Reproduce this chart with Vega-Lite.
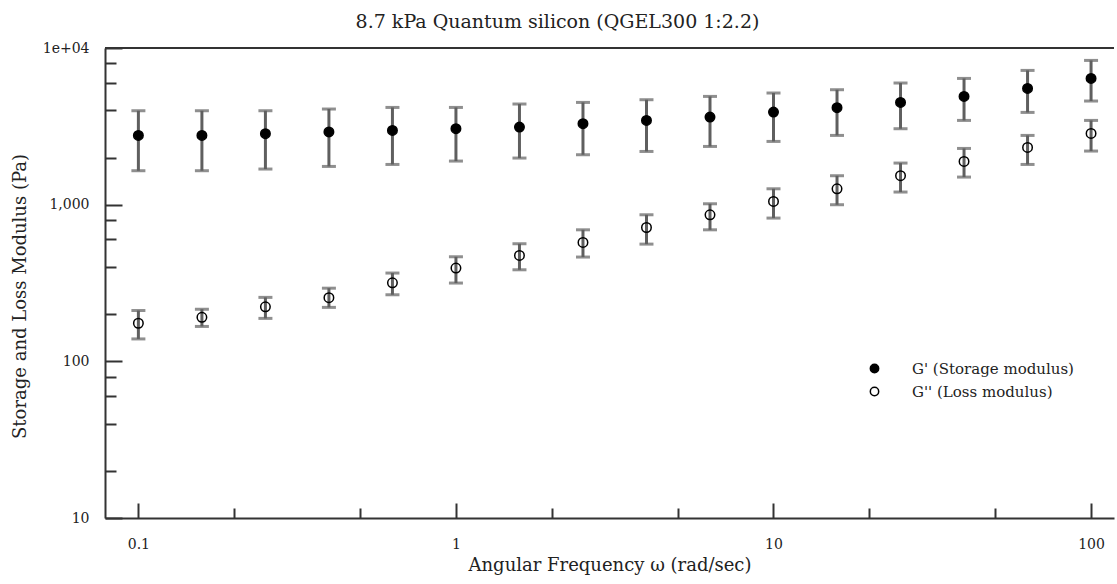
{
  "$schema": "https://vega.github.io/schema/vega-lite/v6.json",
  "autosize": {"type": "none"},
  "padding": {"left": 105, "top": 48, "right": 3, "bottom": 66},
  "width": 1009,
  "height": 470,
  "background": "white",
  "title": {
    "text": "8.7 kPa Quantum silicon (QGEL300 1:2.2)",
    "font": "DejaVu Serif",
    "fontSize": 19,
    "fontWeight": "normal",
    "color": "#222",
    "anchor": "middle",
    "frame": "group",
    "offset": 9,
    "dx": -52
  },
  "config": {
    "view": {"stroke": null},
    "axis": {
      "labelFont": "DejaVu Serif",
      "titleFont": "DejaVu Serif",
      "labelFontSize": 14,
      "titleFontSize": 18,
      "titleFontWeight": "normal",
      "labelColor": "#222",
      "titleColor": "#222",
      "domainColor": "#333",
      "domainWidth": 2,
      "tickColor": "#333",
      "tickWidth": 2,
      "grid": false,
      "labelOverlap": false,
      "labelFlush": false
    }
  },
  "data": {
    "values": [
      {"freq": 0.1, "series": "G' (Storage modulus)", "mod": 2767, "lo": 1647, "hi": 3977},
      {"freq": 0.1585, "series": "G' (Storage modulus)", "mod": 2767, "lo": 1647, "hi": 3977},
      {"freq": 0.2512, "series": "G' (Storage modulus)", "mod": 2838, "lo": 1688, "hi": 3977},
      {"freq": 0.3981, "series": "G' (Storage modulus)", "mod": 2910, "lo": 1754, "hi": 4078},
      {"freq": 0.631, "series": "G' (Storage modulus)", "mod": 2978, "lo": 1806, "hi": 4175},
      {"freq": 1, "series": "G' (Storage modulus)", "mod": 3053, "lo": 1898, "hi": 4175},
      {"freq": 1.585, "series": "G' (Storage modulus)", "mod": 3130, "lo": 1984, "hi": 4389},
      {"freq": 2.512, "series": "G' (Storage modulus)", "mod": 3286, "lo": 2083, "hi": 4494},
      {"freq": 3.981, "series": "G' (Storage modulus)", "mod": 3450, "lo": 2186, "hi": 4676},
      {"freq": 6.31, "series": "G' (Storage modulus)", "mod": 3626, "lo": 2353, "hi": 4909},
      {"freq": 10, "series": "G' (Storage modulus)", "mod": 3902, "lo": 2533, "hi": 5160},
      {"freq": 15.85, "series": "G' (Storage modulus)", "mod": 4157, "lo": 2767, "hi": 5416},
      {"freq": 25.12, "series": "G' (Storage modulus)", "mod": 4494, "lo": 3053, "hi": 5977},
      {"freq": 39.81, "series": "G' (Storage modulus)", "mod": 4909, "lo": 3450, "hi": 6394},
      {"freq": 63.1, "series": "G' (Storage modulus)", "mod": 5521, "lo": 3880, "hi": 7194},
      {"freq": 100, "series": "G' (Storage modulus)", "mod": 6394, "lo": 4587, "hi": 8333},
      {"freq": 0.1, "series": "G'' (Loss modulus)", "mod": 175, "lo": 139, "hi": 211},
      {"freq": 0.1585, "series": "G'' (Loss modulus)", "mod": 191, "lo": 167, "hi": 215},
      {"freq": 0.2512, "series": "G'' (Loss modulus)", "mod": 223, "lo": 188, "hi": 256},
      {"freq": 0.3981, "series": "G'' (Loss modulus)", "mod": 255, "lo": 221, "hi": 293},
      {"freq": 0.631, "series": "G'' (Loss modulus)", "mod": 317, "lo": 266, "hi": 366},
      {"freq": 1, "series": "G'' (Loss modulus)", "mod": 394, "lo": 316, "hi": 465},
      {"freq": 1.585, "series": "G'' (Loss modulus)", "mod": 474, "lo": 384, "hi": 563},
      {"freq": 2.512, "series": "G'' (Loss modulus)", "mod": 574, "lo": 463, "hi": 691},
      {"freq": 3.981, "series": "G'' (Loss modulus)", "mod": 715, "lo": 560, "hi": 862},
      {"freq": 6.31, "series": "G'' (Loss modulus)", "mod": 862, "lo": 691, "hi": 1013},
      {"freq": 10, "series": "G'' (Loss modulus)", "mod": 1048, "lo": 821, "hi": 1263},
      {"freq": 15.85, "series": "G'' (Loss modulus)", "mod": 1263, "lo": 999, "hi": 1530},
      {"freq": 25.12, "series": "G'' (Loss modulus)", "mod": 1530, "lo": 1204, "hi": 1843},
      {"freq": 39.81, "series": "G'' (Loss modulus)", "mod": 1887, "lo": 1500, "hi": 2285},
      {"freq": 63.1, "series": "G'' (Loss modulus)", "mod": 2319, "lo": 1806, "hi": 2767},
      {"freq": 100, "series": "G'' (Loss modulus)", "mod": 2849, "lo": 2199, "hi": 3450}
    ]
  },
  "layer": [
    {
      "mark": {"type": "rule", "color": "#333", "strokeWidth": 2},
      "encoding": {"y": {"datum": 10000, "type": "quantitative"}}
    },
    {
      "mark": {"type": "errorbar", "color": "#5f5f5f", "thickness": 3, "ticks": {"size": 14, "thickness": 3, "color": "#5f5f5f"}},
      "encoding": {
        "x": {
          "field": "freq",
          "type": "quantitative",
          "scale": {"type": "log", "domain": [0.0785, 118.1], "nice": false},
          "axis": {
            "title": "Angular Frequency ω (rad/sec)",
            "values": [0.1, 0.2, 0.5, 1, 2, 5, 10, 20, 50, 100],
            "labelExpr": "datum.value == 0.1 ? '0.1' : (datum.value == 1 || datum.value == 10 || datum.value == 100) ? format(datum.value, 'd') : ''",
            "tickSize": {"condition": {"test": "datum.value == 0.1 || datum.value == 1 || datum.value == 10 || datum.value == 100", "value": -15}, "value": -10},
            "labelPadding": 34,
            "titlePadding": 0
          }
        },
        "y": {
          "field": "lo",
          "type": "quantitative",
          "title": "Storage and Loss Modulus (Pa)",
          "scale": {"type": "log", "domain": [10, 10000], "nice": false},
          "axis": {
            "title": "Storage and Loss Modulus (Pa)",
            "values": [10, 20, 40, 60, 80, 100, 200, 400, 600, 800, 1000, 2000, 4000, 6000, 8000, 10000],
            "labelExpr": "datum.value == 10000 ? '1e+04' : (datum.value == 10 || datum.value == 100 || datum.value == 1000) ? format(datum.value, ',') : ''",
            "tickSize": {"condition": {"test": "datum.value == 10 || datum.value == 100 || datum.value == 1000 || datum.value == 10000", "value": -17}, "value": -11},
            "labelPadding": 33,
            "titlePadding": 13,
            "titleY": 248
          }
        },
        "y2": {"field": "hi"}
      }
    },
    {
      "mark": {"type": "point", "shape": "circle", "stroke": "black", "strokeWidth": 1.5, "size": 90, "opacity": 1},
      "encoding": {
        "x": {"field": "freq", "type": "quantitative"},
        "y": {"field": "mod", "type": "quantitative", "title": "Storage and Loss Modulus (Pa)"},
        "fill": {
          "field": "series",
          "type": "nominal",
          "scale": {"domain": ["G' (Storage modulus)", "G'' (Loss modulus)"], "range": ["black", "transparent"]},
          "legend": {
            "title": null,
            "orient": "none",
            "legendX": 762,
            "legendY": 313,
            "labelFont": "DejaVu Serif",
            "labelFontSize": 15,
            "labelLimit": 400,
            "labelColor": "#222",
            "symbolType": "circle",
            "symbolSize": 70,
            "symbolStrokeColor": "black",
            "symbolStrokeWidth": 1.5,
            "labelOffset": 30,
            "rowPadding": 7
          }
        }
      }
    }
  ]
}
